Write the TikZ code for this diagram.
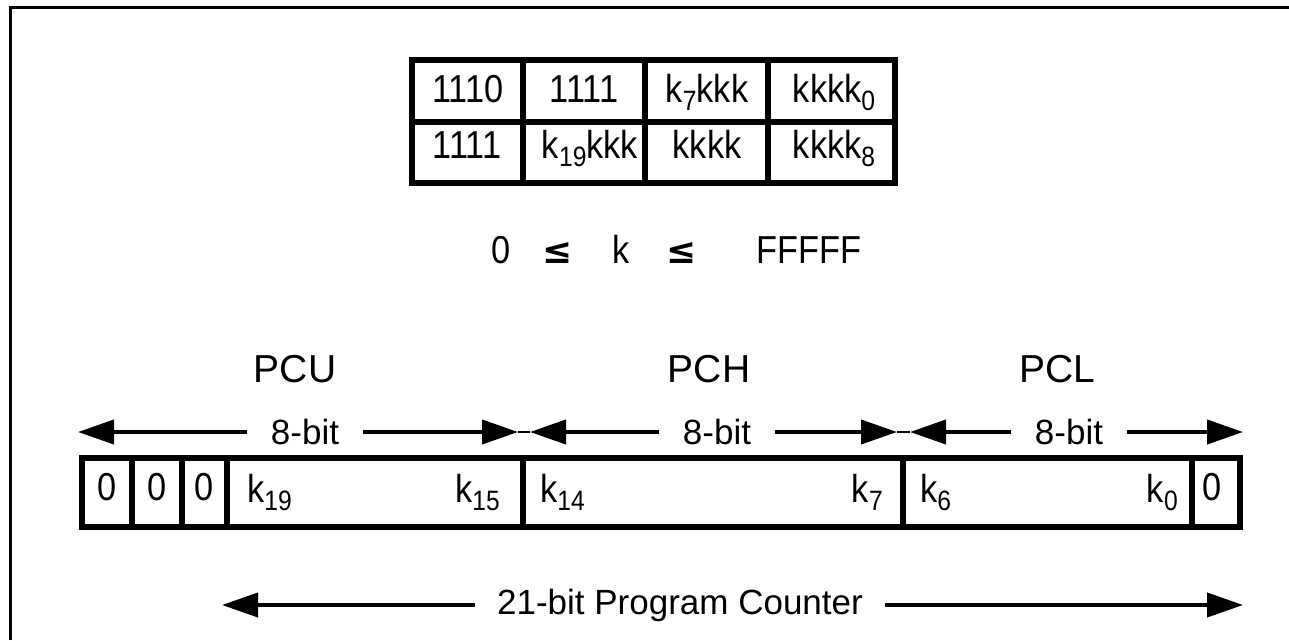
\documentclass[tikz,border=0pt]{standalone}
\usepackage{fontspec}
\setmainfont{Liberation Sans}
\newfontfamily\narrowfont{Liberation Sans}[FakeStretch=0.88]
\newfontfamily\symfont{DejaVu Sans}
\usetikzlibrary{arrows.meta}

% bit name with subscript index
\newcommand{\kbit}[1]{k\raisebox{-0.22em}{\fontsize{28}{28}\selectfont #1}}

\begin{document}
\begin{tikzpicture}[x=1pt,y=-1pt,
  frameline/.style={line width=3pt},
  box/.style={draw, line width=6.5pt},
  divider/.style={line width=6.5pt},
  cell/.style={inner sep=0pt, anchor=base, font=\narrowfont\fontsize{39}{40}\selectfont},
  bitcell/.style={inner sep=0pt, font=\narrowfont\fontsize{39}{40}\selectfont},
  reglabel/.style={inner sep=0pt, anchor=base, font=\fontsize{39}{40}\selectfont},
  widthlabel/.style={inner xsep=24pt, inner ysep=0pt, font=\fontsize{35}{36}\selectfont},
  arr/.style={line width=4pt, -{Triangle[length=36pt,width=24pt]}},
  joint/.style={line width=2pt}]
\useasboundingbox (0,0) rectangle (1289,640);

% page frame
\draw[frameline] (10,640) -- (10,7) -- (1289,7);

% instruction word table
\draw[box] (412,60) rectangle (895,183);
\draw[divider] (412,122) -- (895,122);
\foreach \x in {523,645,768} \draw[divider] (\x,60) -- (\x,183);
\node[cell] (r1c1) at (468,102) {1110};
\node[cell] (r1c2) at (584,102) {1111};
\node[cell] (r1c3) at (707,102) {\kbit{7}kkk};
\node[cell] (r1c4) at (834,102) {kkk\kbit{0}};
\node[cell] (r2c1) at (467,158) {1111};
\node[cell] (r2c2) at (590,158) {\kbit{19}kkk};
\node[cell] (r2c3) at (707,158) {kkkk};
\node[cell] (r2c4) at (834,158) {kkk\kbit{8}};

% range of k
\node[cell] (zero) at (501,263) {0};
\node[cell] (le1) at (558,263) {\fontsize{36}{36}\symfont\bfseries ≤};
\node[cell] (kvar) at (621,263) {k};
\node[cell] (le2) at (682,263) {\fontsize{36}{36}\symfont\bfseries ≤};
\node[cell] (fmax) at (809,263) {FFFFF};

% register names
\node[reglabel] (pcu) at (295,382) {PCU};
\node[reglabel] (pch) at (709,382) {PCH};
\node[reglabel] (pcl) at (1057,382) {PCL};

% 8-bit spans
\node[widthlabel] (w1) at (305,432) {8-bit};
\node[widthlabel] (w2) at (717,432) {8-bit};
\node[widthlabel] (w3) at (1069,432) {8-bit};
\coordinate (t1) at (78,432);
\coordinate (t2) at (518,432);
\coordinate (t3) at (530,432);
\coordinate (t4) at (897,432);
\coordinate (t5) at (910,432);
\coordinate (t6) at (1243,432);
\draw[arr] (w1.west) -- (t1);
\draw[arr] (w1.east) -- (t2);
\draw[arr] (w2.west) -- (t3);
\draw[arr] (w2.east) -- (t4);
\draw[arr] (w3.west) -- (t5);
\draw[arr] (w3.east) -- (t6);
\draw[joint] (t2) -- (t3);
\draw[joint] (t4) -- (t5);

% program counter register
\draw[box] (82,458) rectangle (1240,527);
\foreach \x in {132,182,227,523,903,1192} \draw[divider] (\x,458) -- (\x,527);
\node[bitcell, anchor=base] (z1) at (107,500) {0};
\node[bitcell, anchor=base] (z2) at (157,500) {0};
\node[bitcell, anchor=base] (z3) at (204,500) {0};
\node[bitcell, anchor=base] (z4) at (1212,500) {0};
\node[bitcell, anchor=base west] (k19) at (247,502) {\kbit{19}};
\node[bitcell, anchor=base east] (k15) at (500,502) {\kbit{15}};
\node[bitcell, anchor=base west] (k14) at (540,502) {\kbit{14}};
\node[bitcell, anchor=base east] (k7) at (883,502) {\kbit{7}};
\node[bitcell, anchor=base west] (k6) at (920,502) {\kbit{6}};
\node[bitcell, anchor=base east] (k0) at (1178,502) {\kbit{0}};

% full width
\node[widthlabel, inner xsep=22pt] (pc) at (680,605) {21-bit Program Counter};
\coordinate (b1) at (222,605);
\coordinate (b2) at (1243,605);
\draw[arr] (pc.west) -- (b1);
\draw[arr] (pc.east) -- (b2);
\end{tikzpicture}
\end{document}
